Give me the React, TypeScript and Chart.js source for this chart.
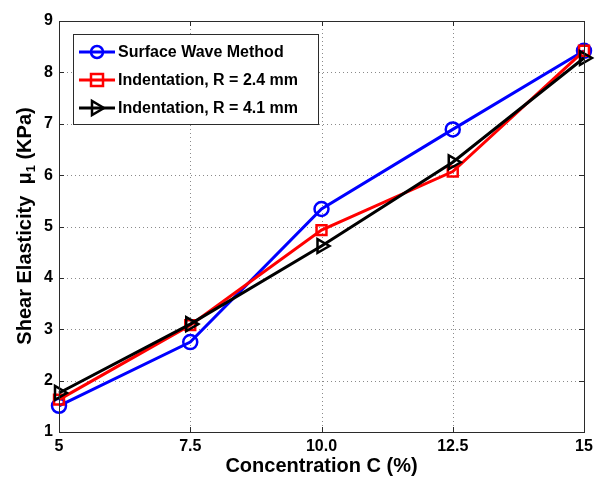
import React, { useEffect, useRef } from "react";
import { Chart, registerables } from "chart.js";

Chart.register(...registerables);

const categories = ["5", "7.5", "10.0", "12.5", "15"];
const surfaceWave = [1.51, 2.75, 5.34, 6.89, 8.42];
const indent24 = [1.63, 3.08, 4.93, 6.07, 8.42];
const indent41 = [1.76, 3.1, 4.62, 6.25, 8.28];
const seriesNames = ["Surface Wave Method", "Indentation, R = 2.4 mm", "Indentation, R = 4.1 mm"];
const yMin = 1;
const yMax = 9;
const xTitle = "Concentration C (%)";

const FONT = "'Liberation Sans', Arial, sans-serif";

const customPlugin = {
  id: "matlabStyle",
  beforeDatasetsDraw(chart: any) {
    const { ctx, chartArea } = chart;
    const { left, right, top, bottom } = chartArea;
    const xs = chart.scales.x;
    const ys = chart.scales.y;
    ctx.save();
    ctx.strokeStyle = "#8a8a8a";
    ctx.lineWidth = 1;
    ctx.setLineDash([1, 3]);
    for (let i = 1; i < categories.length - 1; i++) {
      const x = Math.round(xs.getPixelForValue(i)) + 0.5;
      ctx.beginPath();
      ctx.moveTo(x, top);
      ctx.lineTo(x, bottom);
      ctx.stroke();
    }
    for (let v = yMin + 1; v < yMax; v++) {
      const y = Math.round(ys.getPixelForValue(v)) + 0.5;
      ctx.beginPath();
      ctx.moveTo(left, y);
      ctx.lineTo(right, y);
      ctx.stroke();
    }
    ctx.restore();
  },
  afterDatasetsDraw(chart: any) {
    const { ctx, chartArea } = chart;
    const { left, right, top, bottom } = chartArea;
    const xs = chart.scales.x;
    const ys = chart.scales.y;
    ctx.save();
    ctx.setLineDash([]);
    ctx.strokeStyle = "#2b2b2b";
    ctx.lineWidth = 1;
    ctx.strokeRect(Math.round(left) + 0.5, Math.round(top) + 0.5, Math.round(right - left), Math.round(bottom - top));
    const tl = 5;
    for (let i = 0; i < categories.length; i++) {
      const x = Math.round(xs.getPixelForValue(i)) + 0.5;
      ctx.beginPath();
      ctx.moveTo(x, bottom);
      ctx.lineTo(x, bottom - tl);
      ctx.moveTo(x, top);
      ctx.lineTo(x, top + tl);
      ctx.stroke();
    }
    for (let v = yMin; v <= yMax; v++) {
      const y = Math.round(ys.getPixelForValue(v)) + 0.5;
      ctx.beginPath();
      ctx.moveTo(left, y);
      ctx.lineTo(left + tl, y);
      ctx.moveTo(right, y);
      ctx.lineTo(right - tl, y);
      ctx.stroke();
    }
    ctx.restore();
  },
  afterDraw(chart: any) {
    const { ctx, chartArea } = chart;
    ctx.save();
    // x title
    ctx.fillStyle = "#000";
    ctx.font = `bold 20px ${FONT}`;
    ctx.textAlign = "center";
    ctx.textBaseline = "middle";
    ctx.fillText(xTitle, (chartArea.left + chartArea.right) / 2, 466);

    // y title with subscript
    ctx.save();
    ctx.translate(24, 226);
    ctx.rotate(-Math.PI / 2);
    const big = `bold 20px ${FONT}`;
    const small = `bold 13px ${FONT}`;
    const p1 = "Shear Elasticity  \u03bc";
    const p2 = "1";
    const p3 = " (KPa)";
    ctx.font = big;
    const w1 = ctx.measureText(p1).width;
    const w3 = ctx.measureText(p3).width;
    ctx.font = small;
    const w2 = ctx.measureText(p2).width;
    const total = w1 + w2 + w3;
    let x = -total / 2;
    ctx.textAlign = "left";
    ctx.textBaseline = "alphabetic";
    const base = 7;
    ctx.font = big;
    ctx.fillText(p1, x, base);
    x += w1;
    ctx.font = small;
    ctx.fillText(p2, x, base + 4);
    x += w2;
    ctx.font = big;
    ctx.fillText(p3, x, base);
    ctx.restore();

    // legend
    const bx = 73, by = 34, bw = 245, bh = 90;
    ctx.fillStyle = "#fff";
    ctx.fillRect(bx, by, bw, bh);
    ctx.strokeStyle = "#2b2b2b";
    ctx.lineWidth = 1;
    ctx.strokeRect(bx + 0.5, by + 0.5, bw, bh);
    const rows = [52, 80, 108];
    const colors = ["#0000ff", "#ff0000", "#000000"];
    rows.forEach((ry, i) => {
      ctx.strokeStyle = colors[i];
      ctx.lineWidth = 3;
      ctx.beginPath();
      ctx.moveTo(79, ry);
      ctx.lineTo(115, ry);
      ctx.stroke();
      ctx.lineWidth = 2.5;
      const cx = 97;
      ctx.beginPath();
      if (i === 0) {
        ctx.arc(cx, ry, 6, 0, Math.PI * 2);
      } else if (i === 1) {
        ctx.rect(cx - 6, ry - 6, 12, 12);
      } else {
        ctx.moveTo(cx + 7, ry);
        ctx.lineTo(cx - 5, ry - 7);
        ctx.lineTo(cx - 5, ry + 7);
        ctx.closePath();
      }
      ctx.stroke();
      ctx.fillStyle = "#000";
      ctx.font = `bold 16px ${FONT}`;
      ctx.textAlign = "left";
      ctx.textBaseline = "middle";
      ctx.fillText(seriesNames[i], 118, ry + 1);
    });
    ctx.restore();
  },
};

export default function App() {
  const ref = useRef<HTMLCanvasElement | null>(null);
  useEffect(() => {
    if (!ref.current) return;
    const mk = (label: string, data: number[], color: string, style: any, rot: number, order: number, radius: number) => ({
      label,
      data,
      borderColor: color,
      backgroundColor: "rgba(0,0,0,0)",
      borderWidth: 3,
      pointStyle: style,
      pointRotation: rot,
      pointRadius: radius,
      pointBorderWidth: 2.5,
      pointBorderColor: color,
      pointBackgroundColor: "rgba(0,0,0,0)",
      tension: 0,
      order,
    });
    const chart = new Chart(ref.current, {
      type: "line",
      data: {
        labels: categories,
        datasets: [
          mk(seriesNames[0], surfaceWave, "#0000ff", "circle", 0, 3, 7),
          mk(seriesNames[1], indent24, "#ff0000", "rect", 0, 2, 7),
          mk(seriesNames[2], indent41, "#000000", "triangle", 90, 1, 8),
        ],
      },
      options: {
        responsive: false,
        animation: false,
        layout: { padding: { left: 0, top: 21, right: 20, bottom: 0 } },
        plugins: { legend: { display: false }, tooltip: { enabled: false } },
        scales: {
          x: {
            type: "category",
            offset: false,
            grid: { display: false, drawTicks: false },
            border: { display: false },
            ticks: {
              color: "#000",
              padding: 5,
              maxRotation: 0,
              font: { family: FONT, size: 16, weight: "bold" },
            },
            afterFit: (s: any) => {
              s.height = 59;
            },
          },
          y: {
            min: yMin,
            max: yMax,
            grid: { display: false, drawTicks: false },
            border: { display: false },
            ticks: {
              stepSize: 1,
              color: "#000",
              padding: 6,
              font: { family: FONT, size: 16, weight: "bold" },
            },
            afterFit: (s: any) => {
              s.width = 59;
            },
          },
        },
      },
      plugins: [customPlugin],
    } as any);
    return () => chart.destroy();
  }, []);
  return (
    <div style={{ position: "absolute", left: 0, top: 0, width: 604, height: 491, background: "#fff" }}>
      <canvas ref={ref} width={604} height={491} style={{ display: "block" }} />
    </div>
  );
}
